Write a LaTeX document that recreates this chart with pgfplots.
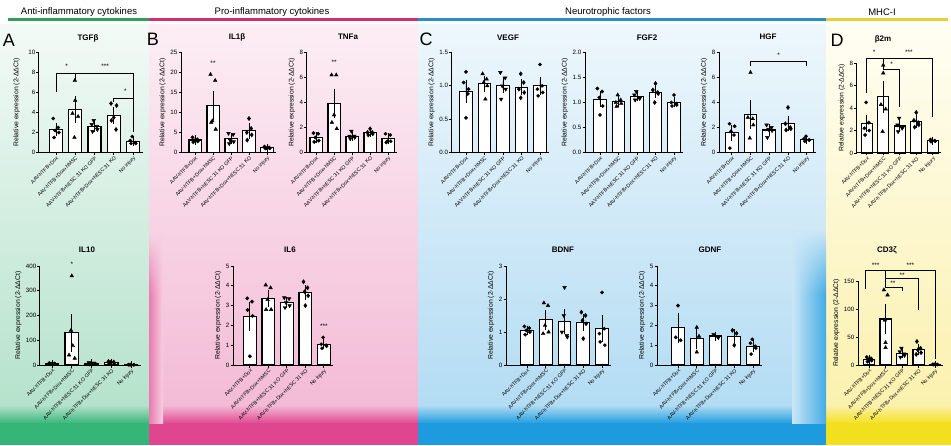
\documentclass[border=0pt]{standalone}
\usepackage{fontspec}
\setmainfont{Liberation Sans}
\usepackage{pgfplots}
\pgfplotsset{compat=1.18}
\usetikzlibrary{fadings}

\definecolor{gTop}{HTML}{F3FAF6}
\definecolor{gMid}{HTML}{B5E2CC}
\definecolor{gSat}{HTML}{35B577}
\definecolor{pTop}{HTML}{FCEEF4}
\definecolor{pMid}{HTML}{F3BBD6}
\definecolor{pSat}{HTML}{E0468F}
\definecolor{bTop}{HTML}{EEF7FC}
\definecolor{bMid}{HTML}{B3DCF3}
\definecolor{bSat}{HTML}{1E9BDF}
\definecolor{yTop}{HTML}{FFFEF3}
\definecolor{yMid}{HTML}{FBF1AE}
\definecolor{ySat}{HTML}{F2E01E}
\definecolor{lGreen}{HTML}{2E9E5B}
\definecolor{lPink}{HTML}{D5306F}
\definecolor{lBlue}{HTML}{2A8DC6}
\definecolor{lYellow}{HTML}{E2D33C}

\pgfplotsset{
  panel/.style={
    scale only axis, clip=false, anchor=south west,
    axis lines=left, axis line style={-, line width=1pt, black},
    tick style={black, line width=0.8pt},
    tick align=outside, major tick length=2.5pt,
    xtick={0,1,2,3,4},
    xticklabels={AAV-hTFB+Dox, AAV-hTFB+Dox+hMSC, AAV-hTFB+hESC 31 KO GFP, AAV-hTFB+Dox+hESC 31 KO, No injury},
    xticklabel style={rotate=45, anchor=north east, font=\fontsize{5.2}{5.2}\selectfont, inner sep=0.5pt},
    yticklabel style={font=\fontsize{6.2}{6.2}\selectfont, inner sep=1pt},
    ylabel={Relative expression (2-ΔΔCt)},
    ylabel style={font=\fontsize{6.8}{7}\selectfont},
    ymin=0, xmax=4.5,
    /pgf/number format/assume math mode=true,
  },
  bars/.style={ybar, bar width=0.68, bar shift=0pt, fill=white, draw=black, line width=1.2pt,
    error bars/.cd, y dir=both, y explicit,
    error bar style={line width=0.8pt, black},
    error mark options={line width=0.8pt, mark size=3.5pt, black}},
  g1/.style={only marks, mark=*, mark size=1.7pt, black},
  g2/.style={only marks, mark=triangle*, mark size=2.1pt, black},
  g3/.style={only marks, mark=triangle*, mark size=2.1pt, black, mark options={rotate=180}},
  g4/.style={only marks, mark=diamond*, mark size=2.1pt, black},
  g5/.style={only marks, mark=*, mark size=1.6pt, black},
}
\tikzset{
  sig/.style={font=\fontsize{6.5}{6.5}\selectfont, inner sep=0pt},
  br/.style={line width=0.6pt, black},
  ttl/.style={font=\bfseries\fontsize{8}{8}\selectfont},
  letter/.style={font=\fontsize{18}{18}\selectfont},
  hdr/.style={font=\fontsize{9.5}{10}\selectfont},
}

\begin{document}
\begin{tikzpicture}
% ---------- backgrounds ----------
\fill[white] (0pt,0pt) rectangle (951pt,445pt);
\shade[top color=gTop, bottom color=gMid] (0pt,39pt) rectangle (149pt,420pt);
\shade[top color=gMid, bottom color=gSat] (0pt,21pt) rectangle (149pt,40pt);
\fill[gSat] (0pt,0pt) rectangle (149pt,22pt);
\shade[top color=pTop, bottom color=pMid] (149pt,39pt) rectangle (418pt,420pt);
\shade[top color=pMid, bottom color=pSat] (149pt,21pt) rectangle (418pt,40pt);
\fill[pSat] (149pt,0pt) rectangle (418pt,22pt);
\shade[top color=bTop, bottom color=bMid] (418pt,39pt) rectangle (826pt,420pt);
\shade[top color=bMid, bottom color=bSat] (418pt,21pt) rectangle (826pt,40pt);
\fill[bSat] (418pt,0pt) rectangle (826pt,22pt);
\shade[top color=yTop, bottom color=yMid] (826pt,39pt) rectangle (951pt,420pt);
\shade[top color=yMid, bottom color=ySat] (826pt,21pt) rectangle (951pt,40pt);
\fill[ySat] (826pt,0pt) rectangle (951pt,22pt);
% soft edge strips
\shade[left color=bTop!40!bMid, right color=bSat!75!bMid] (792pt,22pt) rectangle (826pt,150.5pt);
\shade[left color=bTop!40!bMid, right color=bSat!75!bMid, path fading=north] (792pt,150pt) rectangle (826pt,215pt);
\shade[left color=pSat!55!pMid, right color=pTop!40!pMid] (149pt,22pt) rectangle (163pt,150.5pt);
\shade[left color=pSat!55!pMid, right color=pTop!40!pMid, path fading=north] (149pt,150pt) rectangle (163pt,210pt);

% ---------- header ----------
\draw[lGreen, line width=3pt] (8pt,425pt) -- (149pt,425pt);
\draw[lPink, line width=3pt] (149pt,425pt) -- (418pt,425pt);
\draw[lBlue, line width=3pt] (418pt,425pt) -- (826pt,425pt);
\draw[lYellow, line width=3pt] (826pt,425pt) -- (948pt,425pt);
\node[hdr] at (79pt,433pt) {Anti-inflammatory cytokines};
\node[hdr] at (272pt,433pt) {Pro-inflammatory cytokines};
\node[hdr] at (608pt,433pt) {Neurotrophic factors};
\node[hdr] at (882pt,433pt) {MHC-I};

% ---------- letters and titles ----------
\node[letter] at (9pt,405pt) {A};
\node[letter] at (153pt,406pt) {B};
\node[letter] at (426pt,406pt) {C};
\node[letter] at (837pt,405pt) {D};
\node[ttl] at (88pt,407pt) {TGFβ};
\node[ttl] at (237pt,408pt) {IL1β};
\node[ttl] at (348pt,408pt) {TNFa};
\node[ttl] at (508pt,407pt) {VEGF};
\node[ttl] at (647pt,407pt) {FGF2};
\node[ttl] at (768pt,408pt) {HGF};
\node[ttl] at (883pt,406pt) {β2m};
\node[ttl] at (87pt,195pt) {IL10};
\node[ttl] at (290pt,195pt) {IL6};
\node[ttl] at (563pt,195pt) {BDNF};
\node[ttl] at (710pt,195pt) {GDNF};
\node[ttl] at (887pt,195pt) {CD3ζ};

% ---------- TGFb ----------
\begin{axis}[panel, at={(39pt,292.5pt)}, width=103.6pt, height=100pt, xmin=-0.88, ymax=10, ytick={0,2,4,6,8,10}, ylabel shift=4pt]
\addplot[bars] coordinates {(0,2.3) +- (0,0.3) (1,4.3) +- (0,1.0) (2,2.6) +- (0,0.2) (3,3.7) +- (0,0.5) (4,1.1) +- (0,0.1)};
\addplot[g1] coordinates {(-0.14,3.4) (0.12,2.5) (-0.04,2.2) (0.15,2.0) (-0.1,1.5)};
\addplot[g2] coordinates {(0.98,7.2) (1.0,5.2) (0.86,3.9) (1.15,3.6) (0.96,1.5)};
\addplot[g3] coordinates {(1.96,3.2) (1.86,2.8) (2.12,2.6) (2.15,2.3) (1.9,2.1)};
\addplot[g4] coordinates {(2.86,4.9) (3.15,4.7) (3.0,3.5) (2.88,3.2) (3.12,2.3)};
\addplot[g5] coordinates {(3.96,1.6) (3.86,1.2) (4.12,1.0) (4.15,0.9) (3.9,0.9)};
\draw[br] (axis cs:0,6.0) -- (axis cs:0,7.9) -- (axis cs:4,7.9) -- (axis cs:4,2.0);
\draw[br] (axis cs:1,7.9) -- (axis cs:1,7.25);
\draw[br] (axis cs:3,5.0) -- (axis cs:3,5.4) -- (axis cs:4,5.4);
\node[sig] at (axis cs:0.55,8.6) {*};
\node[sig] at (axis cs:2.55,8.6) {***};
\node[sig] at (axis cs:3.6,6.1) {*};
\end{axis}

% ---------- IL10 ----------
\begin{axis}[panel, at={(40pt,80pt)}, width=100.9pt, height=99pt, xmin=-0.61, ymax=400, ytick={0,100,200,300,400}]
\addplot[bars] coordinates {(0,5) +- (0,1.2) (1,130) +- (0,62) (2,7) +- (0,1.5) (3,10) +- (0,1.5) (4,1) +- (0,0.2)};
\addplot[g1] coordinates {(-0.14,8) (0.12,6) (-0.04,5) (0.15,4) (-0.1,3)};
\addplot[g2] coordinates {(1.0,360) (0.96,140) (1.05,78) (0.86,40) (1.15,27)};
\addplot[g3] coordinates {(1.86,10) (2.12,8) (1.96,7) (2.15,6) (1.9,4)};
\addplot[g4] coordinates {(2.86,14) (3.12,12) (2.96,10) (3.15,8) (2.9,6)};
\addplot[g5] coordinates {(3.86,1.5) (4.12,1) (3.96,1) (4.15,0.8) (3.9,0.7)};
\node[sig] at (axis cs:1,408) {*};
\end{axis}

% ---------- IL1b ----------
\begin{axis}[panel, at={(181pt,292.5pt)}, width=95pt, height=100pt, xmin=-0.78, ymax=25, ytick={0,5,10,15,20,25}]
\addplot[bars] coordinates {(0,3.1) +- (0,0.3) (1,11.7) +- (0,2.8) (2,3.4) +- (0,0.5) (3,5.4) +- (0,1.1) (4,1.2) +- (0,0.1)};
\addplot[g1] coordinates {(-0.14,3.8) (0.12,3.3) (-0.04,3.0) (0.15,2.8) (-0.1,2.6)};
\addplot[g2] coordinates {(0.86,19.5) (1.12,18.0) (0.96,7.9) (0.9,7.5) (1.15,5.8)};
\addplot[g3] coordinates {(1.86,4.8) (2.12,4.5) (1.96,3.0) (2.15,2.7) (1.9,2.2)};
\addplot[g4] coordinates {(3.0,8.5) (3.12,6.0) (2.88,5.0) (3.15,4.4) (2.9,3.1)};
\addplot[g5] coordinates {(3.86,1.5) (4.12,1.3) (3.96,1.1) (4.15,1.0) (3.9,1.0)};
\node[sig] at (axis cs:1,22.3) {**};
\end{axis}

% ---------- TNFa ----------
\begin{axis}[panel, at={(306.7pt,292.5pt)}, width=90.4pt, height=100pt, xmin=-0.52, ymax=8, ytick={0,2,4,6,8}]
\addplot[bars] coordinates {(0,1.2) +- (0,0.13) (1,3.9) +- (0,0.9) (2,1.3) +- (0,0.1) (3,1.6) +- (0,0.08) (4,1.1) +- (0,0.15)};
\addplot[g1] coordinates {(-0.14,1.55) (0.12,1.5) (-0.04,1.2) (0.15,0.95) (-0.1,0.85)};
\addplot[g2] coordinates {(0.86,6.2) (1.12,6.2) (1.0,3.0) (0.88,2.4) (1.15,1.9)};
\addplot[g3] coordinates {(1.96,1.7) (1.86,1.3) (2.12,1.3) (2.15,1.2) (1.9,1.1)};
\addplot[g4] coordinates {(3.0,1.9) (2.86,1.6) (3.12,1.6) (3.15,1.5) (2.9,1.4)};
\addplot[g5] coordinates {(3.86,1.5) (4.12,1.4) (3.96,0.9) (4.15,0.9) (3.9,0.8)};
\node[sig] at (axis cs:1,7.2) {**};
\end{axis}

% ---------- IL6 ----------
\begin{axis}[panel, at={(233pt,80pt)}, width=100.1pt, height=99pt, xmin=-0.91, ymax=5, ytick={0,1,2,3,4,5}]
\addplot[bars] coordinates {(0,2.45) +- (0,0.55) (1,3.37) +- (0,0.25) (2,3.16) +- (0,0.1) (3,3.66) +- (0,0.2) (4,1.05) +- (0,0.08)};
\addplot[g1] coordinates {(-0.14,3.37) (0.12,3.2) (-0.12,2.78) (0.15,2.48) (0.0,0.44)};
\addplot[g2] coordinates {(0.86,4.04) (1.12,3.9) (0.96,3.3) (0.88,2.8) (1.15,2.8)};
\addplot[g3] coordinates {(1.86,3.4) (2.12,3.35) (1.96,3.15) (2.15,3.0) (1.9,2.9)};
\addplot[g4] coordinates {(2.9,4.2) (3.12,3.9) (2.96,3.7) (3.15,3.5) (3.0,3.0)};
\addplot[g5] coordinates {(3.96,1.4) (3.86,1.05) (4.12,1.0) (4.15,0.95) (3.9,0.85)};
\node[sig] at (axis cs:4,1.95) {***};
\end{axis}

% ---------- VEGF ----------
\begin{axis}[panel, at={(451.7pt,292.5pt)}, width=97.5pt, height=100pt, xmin=-0.77, ymax=1.5, ytick={0,0.5,1,1.5},
  yticklabel style={/pgf/number format/.cd, fixed, fixed zerofill, precision=1}]
\addplot[bars] coordinates {(0,0.92) +- (0,0.12) (1,1.03) +- (0,0.07) (2,1.01) +- (0,0.07) (3,0.98) +- (0,0.07) (4,1.0) +- (0,0.08)};
\addplot[g1] coordinates {(0.0,1.21) (-0.12,1.05) (0.14,0.95) (0.1,0.88) (0.0,0.52)};
\addplot[g2] coordinates {(0.9,1.18) (1.12,1.1) (0.96,1.05) (1.15,1.0) (1.05,0.8)};
\addplot[g3] coordinates {(1.86,1.2) (2.12,1.12) (1.96,1.0) (2.15,0.95) (1.9,0.8)};
\addplot[g4] coordinates {(2.96,1.18) (3.12,1.05) (2.86,0.95) (3.15,0.9) (2.96,0.82)};
\addplot[g5] coordinates {(4.0,1.32) (4.12,1.0) (3.86,0.95) (4.15,0.9) (3.9,0.85)};
\end{axis}

% ---------- FGF2 ----------
\begin{axis}[panel, at={(585pt,292.5pt)}, width=98.2pt, height=100pt, xmin=-0.81, ymax=2, ytick={0,0.5,1,1.5,2},
  yticklabel style={/pgf/number format/.cd, fixed, fixed zerofill, precision=1}]
\addplot[bars] coordinates {(0,1.06) +- (0,0.09) (1,1.02) +- (0,0.04) (2,1.12) +- (0,0.03) (3,1.2) +- (0,0.05) (4,1.0) +- (0,0.03)};
\addplot[g1] coordinates {(-0.14,1.28) (0.12,1.22) (-0.04,1.1) (0.15,0.93) (0.0,0.75)};
\addplot[g2] coordinates {(0.96,1.15) (1.12,1.05) (0.86,1.0) (1.15,0.98) (0.9,0.92)};
\addplot[g3] coordinates {(1.96,1.22) (1.86,1.15) (2.12,1.1) (2.15,1.08) (1.9,1.05)};
\addplot[g4] coordinates {(3.0,1.38) (2.86,1.25) (3.12,1.2) (3.15,1.18) (2.96,1.0)};
\addplot[g5] coordinates {(4.0,1.15) (3.86,1.0) (4.12,0.98) (4.15,0.95) (3.9,0.93)};
\end{axis}

% ---------- HGF ----------
\begin{axis}[panel, at={(719pt,292.5pt)}, width=97.1pt, height=100pt, xmin=-0.68, ymax=8, ytick={0,2,4,6,8}]
\addplot[bars] coordinates {(0,1.57) +- (0,0.35) (1,3.05) +- (0,0.9) (2,1.8) +- (0,0.2) (3,2.32) +- (0,0.35) (4,1.06) +- (0,0.07)};
\addplot[g1] coordinates {(-0.12,2.3) (0.15,2.1) (-0.04,1.7) (0.12,1.4) (-0.1,0.35)};
\addplot[g2] coordinates {(1.0,6.4) (0.86,2.8) (1.12,2.7) (1.15,2.2) (0.96,1.15)};
\addplot[g3] coordinates {(1.86,2.2) (2.12,2.0) (1.96,1.85) (2.15,1.75) (1.9,1.2)};
\addplot[g4] coordinates {(3.0,3.6) (2.86,2.3) (3.12,2.0) (3.15,1.9) (2.9,1.8)};
\addplot[g5] coordinates {(3.96,1.3) (3.86,1.1) (4.12,1.0) (4.15,1.0) (3.9,0.9)};
\draw[br] (axis cs:1,6.9) -- (axis cs:1,7.3) -- (axis cs:4,7.3) -- (axis cs:4,6.9);
\node[sig] at (axis cs:2.5,7.75) {*};
\end{axis}

% ---------- b2m ----------
\begin{axis}[panel, at={(856.7pt,292pt)}, width=84.3pt, height=90pt, xmin=-0.61, ymax=8, ytick={0,2,4,6,8}]
\addplot[bars] coordinates {(0,2.6) +- (0,0.45) (1,5.0) +- (0,1.1) (2,2.4) +- (0,0.2) (3,2.8) +- (0,0.25) (4,1.1) +- (0,0.04)};
\addplot[g1] coordinates {(-0.04,4.5) (0.12,2.7) (-0.14,2.2) (0.15,2.0) (-0.1,1.6)};
\addplot[g2] coordinates {(1.0,7.8) (1.0,7.1) (0.86,4.3) (1.15,3.9) (0.96,1.9)};
\addplot[g3] coordinates {(1.96,3.1) (1.86,2.5) (2.12,2.3) (2.15,2.2) (1.9,1.9)};
\addplot[g4] coordinates {(3.0,3.6) (2.86,2.9) (3.12,2.7) (3.15,2.5) (2.9,2.3)};
\addplot[g5] coordinates {(3.86,1.2) (4.12,1.1) (3.96,1.1) (4.15,1.05) (3.9,1.0)};
\draw[br] (axis cs:0,5.3) -- (axis cs:0,8.45) -- (axis cs:4,8.45) -- (axis cs:4,3.2);
\draw[br] (axis cs:1,8.45) -- (axis cs:1,7.4) -- (axis cs:2,7.4) -- (axis cs:2,4.1);
\node[sig] at (axis cs:0.45,8.95) {*};
\node[sig] at (axis cs:2.55,8.95) {***};
\node[sig] at (axis cs:1.5,7.9) {*};
\end{axis}

% ---------- BDNF ----------
\begin{axis}[panel, at={(506pt,80pt)}, width=105.4pt, height=99pt, xmin=-1.12, ymax=3, ytick={0,1,2,3}]
\addplot[bars] coordinates {(0,1.05) +- (0,0.04) (1,1.37) +- (0,0.2) (2,1.32) +- (0,0.27) (3,1.3) +- (0,0.15) (4,1.11) +- (0,0.3)};
\addplot[g1] coordinates {(-0.14,1.17) (0.12,1.12) (-0.04,1.05) (0.15,1.0) (-0.1,0.92)};
\addplot[g2] coordinates {(0.9,1.88) (1.12,1.8) (0.96,1.2) (1.15,1.0) (0.86,0.95)};
\addplot[g3] coordinates {(2.0,2.35) (1.96,1.5) (1.86,1.0) (2.12,0.9) (2.15,0.85)};
\addplot[g4] coordinates {(2.9,1.6) (3.12,1.5) (2.96,1.35) (3.15,1.25) (3.0,0.8)};
\addplot[g5] coordinates {(4.0,2.2) (4.12,1.1) (3.86,0.95) (3.9,0.7) (4.15,0.6)};
\end{axis}

% ---------- GDNF ----------
\begin{axis}[panel, at={(657pt,80pt)}, width=105.4pt, height=99pt, xmin=-1.12, ymax=5, ytick={0,1,2,3,4,5}]
\addplot[bars] coordinates {(0,1.88) +- (0,0.57) (1,1.33) +- (0,0.36) (2,1.46) +- (0,0.05) (3,1.45) +- (0,0.18) (4,0.95) +- (0,0.12)};
\addplot[g1] coordinates {(0.0,3.0) (-0.12,1.4) (0.14,1.25)};
\addplot[g2] coordinates {(1.0,1.9) (1.12,1.45) (1.0,0.65)};
\addplot[g3] coordinates {(1.9,1.55) (2.1,1.45) (2.15,1.38)};
\addplot[g4] coordinates {(2.9,1.75) (3.12,1.6) (3.0,1.0)};
\addplot[g5] coordinates {(3.96,1.3) (3.86,1.1) (4.12,0.95) (4.15,0.85) (3.9,0.55)};
\end{axis}

% ---------- CD3z ----------
\begin{axis}[panel, at={(858pt,80pt)}, width=85.3pt, height=84pt, xmin=-0.67, ymax=150, ytick={0,50,100,150}]
\addplot[bars] coordinates {(0,10) +- (0,1.3) (1,82) +- (0,21) (2,21) +- (0,2.8) (3,28) +- (0,4) (4,1) +- (0,0.15)};
\addplot[g1] coordinates {(-0.14,14) (0.12,12) (-0.04,10) (0.15,8) (-0.1,6)};
\addplot[g2] coordinates {(0.9,134) (1.12,125) (0.96,80) (1.0,40) (1.0,31)};
\addplot[g3] coordinates {(1.96,30) (1.86,24) (2.12,20) (2.15,17) (1.9,14)};
\addplot[g4] coordinates {(2.9,42) (3.12,30) (2.96,27) (3.15,22) (2.86,19)};
\addplot[g5] coordinates {(3.86,1.5) (4.12,1) (3.96,1) (4.15,0.8) (3.9,0.7)};
\draw[br] (axis cs:-0.2,136) -- (axis cs:-0.2,169) -- (axis cs:4,169) -- (axis cs:4,10);
\draw[br] (axis cs:1,169) -- (axis cs:1,139) -- (axis cs:2,139) -- (axis cs:2,133);
\draw[br] (axis cs:1,154) -- (axis cs:3,154) -- (axis cs:3,98);
\node[sig] at (axis cs:0.4,178) {***};
\node[sig] at (axis cs:2.5,178) {***};
\node[sig] at (axis cs:2.0,161) {**};
\node[sig] at (axis cs:1.45,146) {**};
\end{axis}

\pgfresetboundingbox
\path[use as bounding box] (0pt,0pt) rectangle (951pt,445pt);
\end{tikzpicture}
\end{document}
